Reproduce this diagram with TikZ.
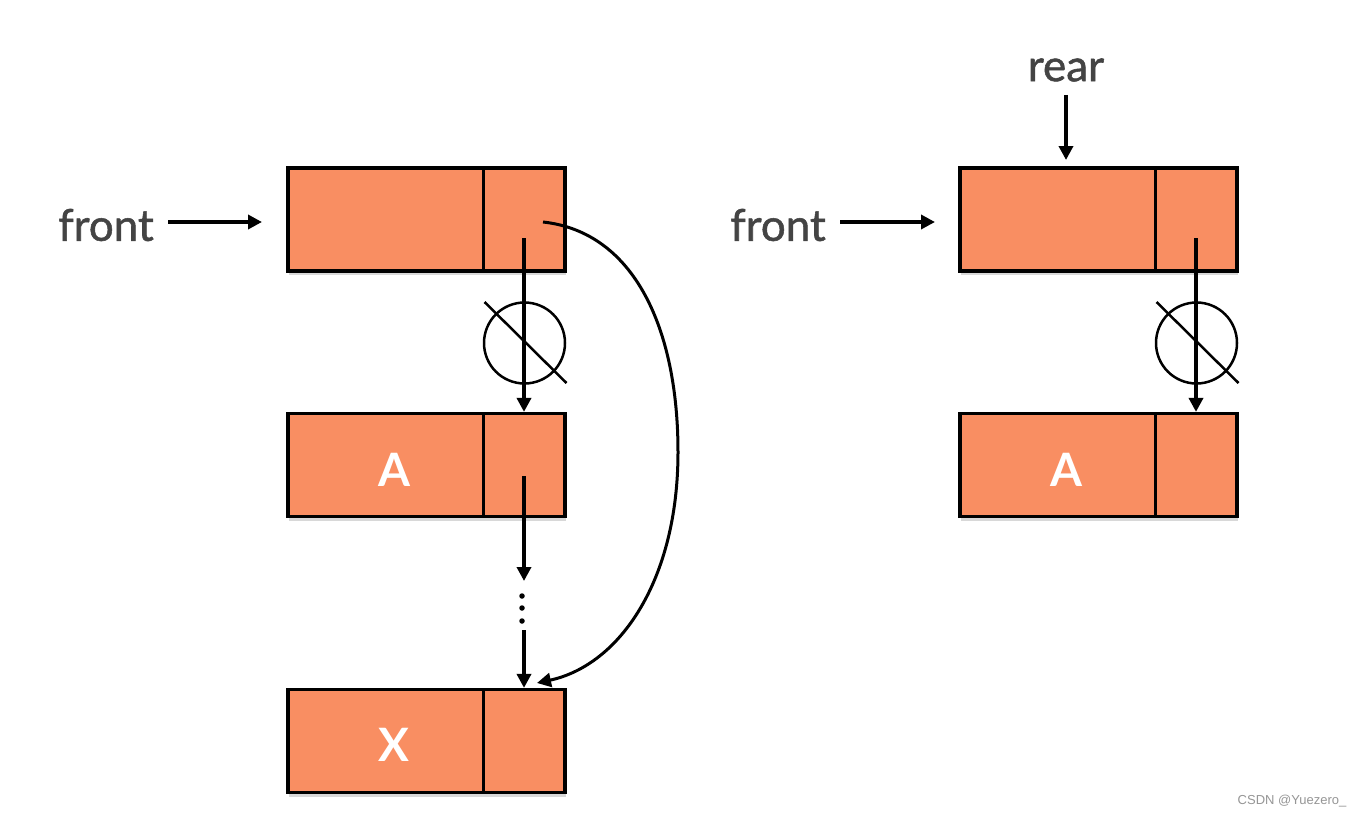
\documentclass[tikz,border=0pt]{standalone}
\usepackage{fontspec}
\setmainfont{Lato}
\newfontfamily\lblfont[FakeBold=1.2]{Lato}
\newfontfamily\wmfont{Liberation Sans}
\usetikzlibrary{arrows.meta,shadows,calc}
\definecolor{salmon}{RGB}{249,142,98}
\definecolor{lbl}{RGB}{68,68,68}
\definecolor{wm}{RGB}{150,150,150}
\begin{document}
\begin{tikzpicture}[x=1pt,y=-1pt,
  cell/.style={draw=black, line width=3.2pt, fill=salmon, minimum width=277pt, minimum height=103pt, inner sep=0pt,
    drop shadow={shadow xshift=1pt, shadow yshift=-4pt, opacity=0.3}},
  divider/.style={line width=3pt},
  ar/.style={line width=4pt, -{Triangle[length=14pt,width=14pt]}},
  lbltext/.style={font=\lblfont\fontsize{44}{50}\selectfont, text=lbl, inner sep=0pt},
  celltext/.style={font=\fontsize{46}{50}\selectfont\bfseries, text=white, inner sep=0pt},
  nullc/.style={circle, draw=black, line width=2.5pt, minimum size=81pt, inner sep=0pt},
  dot/.style={circle, fill=black, minimum size=5.5pt, inner sep=0pt}
]
\useasboundingbox (0,0) rectangle (1361,816);
\fill[white] (0,0) rectangle (1361,816);

% ---------- left figure ----------
\node[cell] (H) at (426.5,219.5) {};
\draw[divider] (483,168) -- (483,271);
\node[cell] (A) at (426.5,465) {};
\draw[divider] (483,414) -- (483,516);
\node[cell] (X) at (426.5,741) {};
\draw[divider] (483,690) -- (483,792);
\node[celltext] (At) at (394,470) {A};
\node[celltext] (Xt) at (394,745) {X};

\node[lbltext] (front1) at (106,225) {front};
\coordinate (f1s) at (168,222);
\draw[ar] (f1s) -- (262,222);

\node[nullc] (c1) at (524.5,343) {};
\draw[line width=2.5pt] ($(c1)+(-40,-41)$) -- ($(c1)+(42,40)$);
\coordinate (p1) at (524,238);
\draw[ar] (p1) -- (p1 |- A.north);

\coordinate (p2) at (524,476);
\coordinate (p2e) at (524,581);
\draw[ar] (p2) -- (p2e);
\node[dot] (d1) at (522,596) {};
\node[dot] (d2) at (522,608) {};
\node[dot] (d3) at (522,621) {};
\coordinate (p3) at (524,630);
\draw[ar] (p3) -- (p3 |- X.north);

\coordinate (q1) at (543,222);
\coordinate (q2) at (537,683);
\draw[ar, line width=3pt] (q1) .. controls (635,232) and (678,330) .. (678,452) .. controls (678,580) and (620,665) .. (q2);

% ---------- right figure ----------
\node[cell] (H2) at (1098.5,219.5) {};
\draw[divider] (1155,168) -- (1155,271);
\node[cell] (A2) at (1098.5,465) {};
\draw[divider] (1155,414) -- (1155,516);
\node[celltext] (A2t) at (1066,470) {A};

\node[lbltext] (front2) at (778,225) {front};
\coordinate (f2s) at (840,222);
\draw[ar] (f2s) -- (935,222);

\node[lbltext] (rear) at (1066,70) {rear};
\coordinate (r1) at (1066,95);
\draw[ar] (r1) -- (1066,160);

\node[nullc] (c2) at (1196.5,343) {};
\draw[line width=2.5pt] ($(c2)+(-40,-41)$) -- ($(c2)+(42,40)$);
\coordinate (p4) at (1196,238);
\draw[ar] (p4) -- (p4 |- A2.north);

\node[font=\wmfont\fontsize{13}{15}\selectfont, text=wm, inner sep=0pt] (wm) at (1292,801) {CSDN @Yuezero\_};
\end{tikzpicture}
\end{document}
